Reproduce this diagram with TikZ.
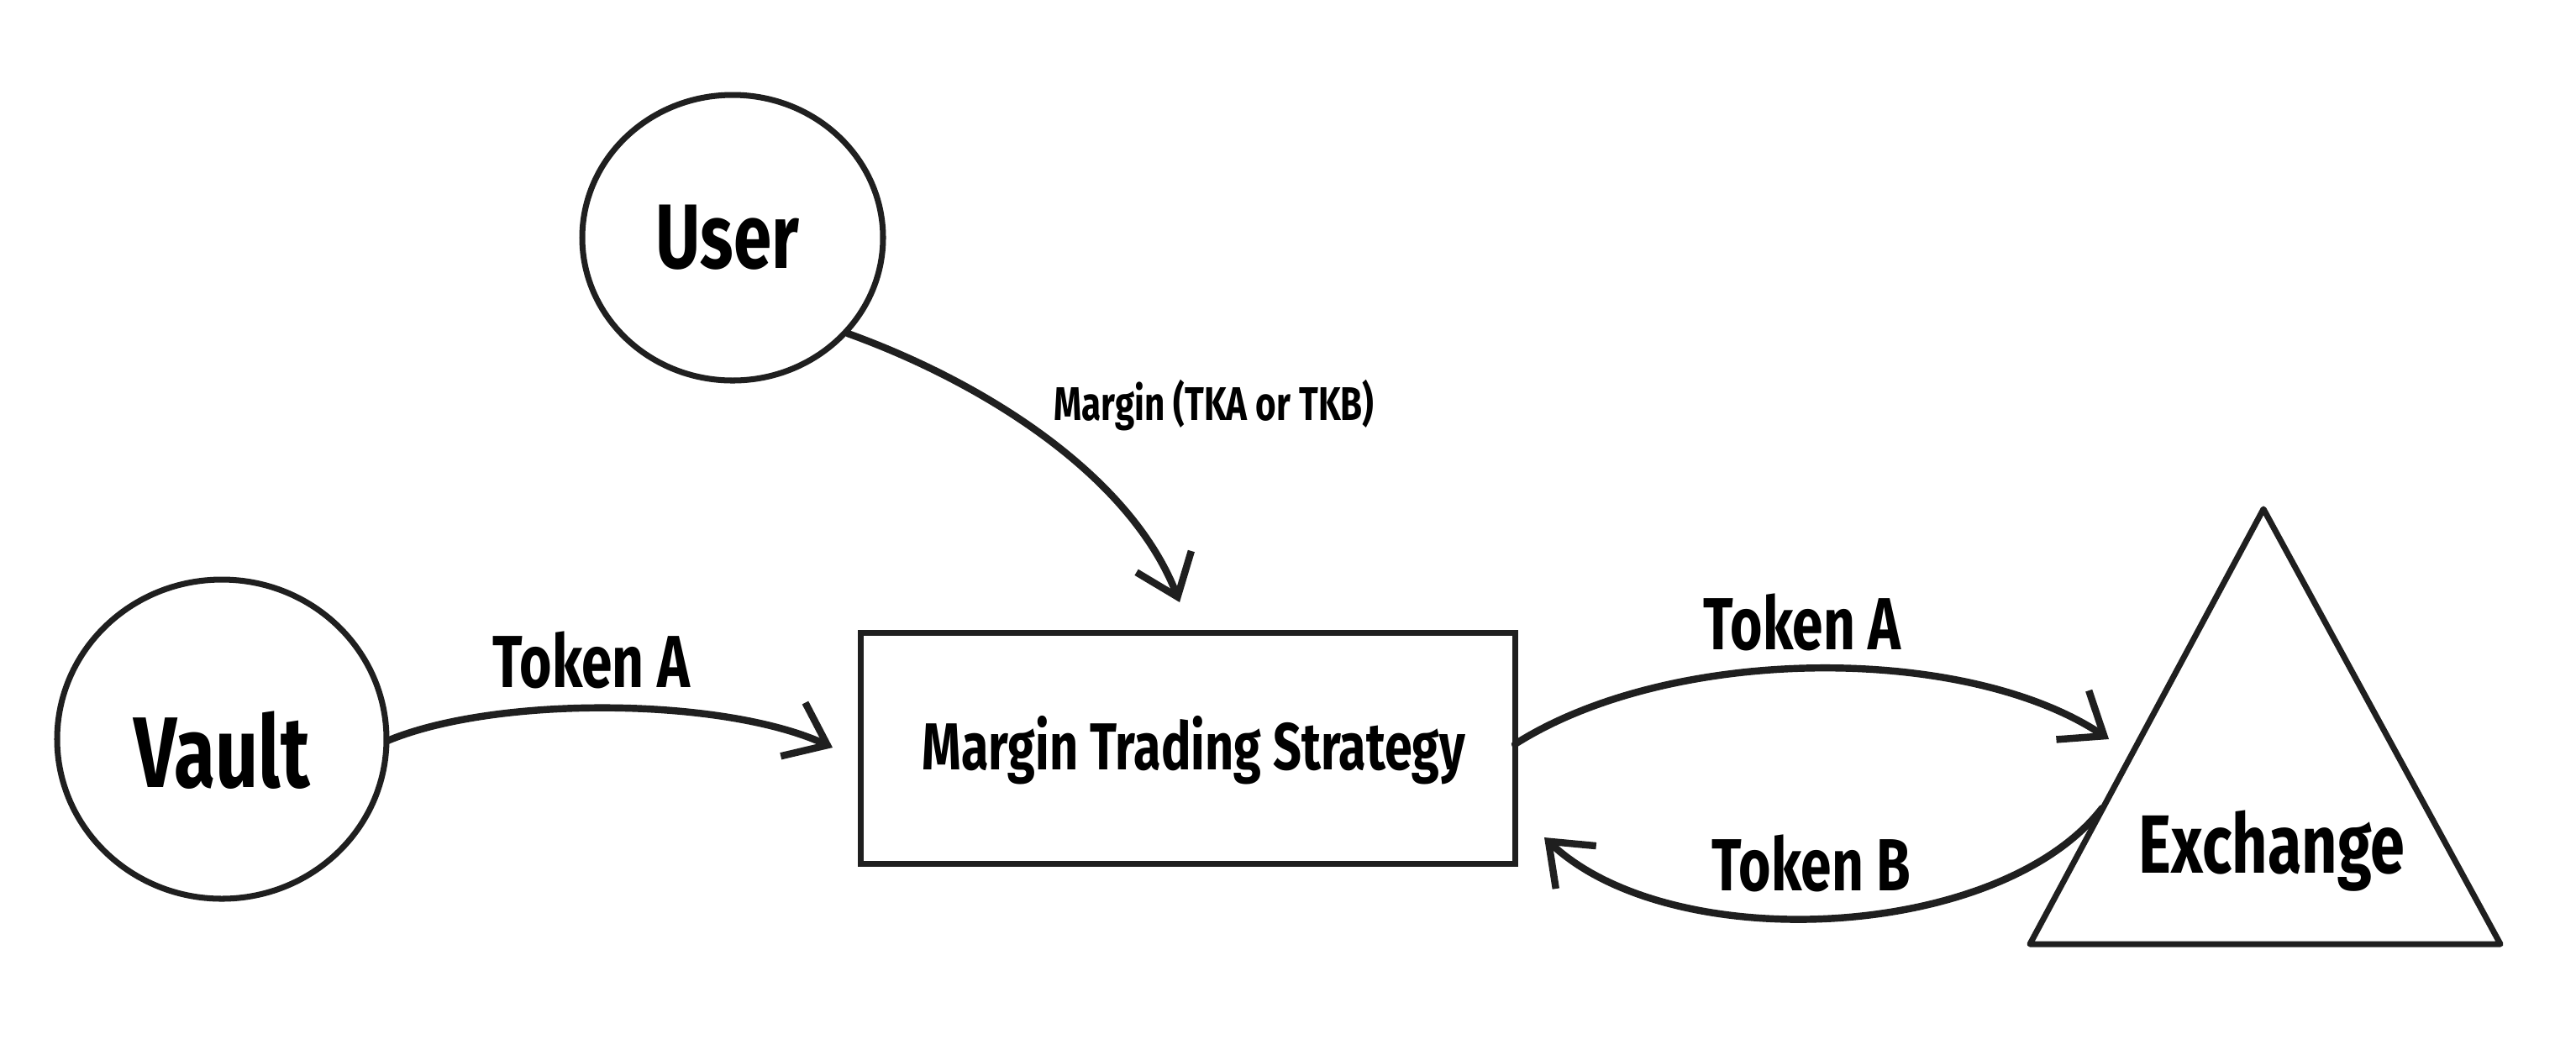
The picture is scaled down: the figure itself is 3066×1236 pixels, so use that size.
\documentclass[tikz,border=0pt]{standalone}
\usepackage{fontspec}
\setmainfont{Fira Sans}[FakeStretch=0.75]
\usetikzlibrary{shapes.geometric,arrows.meta}
\begin{document}
\begin{tikzpicture}[x=0.1mm,y=-0.1mm,
  outline/.style={draw=black!88, line width=2pt},
  conn/.style={draw=black!88, line width=2.4pt, line cap=round,
    -{Straight Barb[length=4.5mm,width=7mm,line width=2.4pt]}},
  ell/.style={outline, ellipse, inner sep=0pt},
  big/.style={font=\bfseries\fontsize{34}{40}\selectfont},
  mid/.style={font=\bfseries\fontsize{25}{30}\selectfont},
  small/.style={font=\bfseries\fontsize{16}{20}\selectfont}]
\useasboundingbox (0,0) rectangle (3066,1236);
\fill[white] (0,0) rectangle (3066,1236);
% nodes
\node[ell, minimum width=35.8mm, minimum height=34mm] (user) at (872,283) {};
\node[font=\bfseries\fontsize{31}{36}\selectfont] (usert) at (866,283) {User};
\node[ell, minimum width=39.2mm, minimum height=38mm] (vault) at (264,880) {};
\node[big] (vaultt) at (264,893) {Vault};
\node[outline, rectangle, minimum width=77.9mm, minimum height=27.5mm, inner sep=0pt] (mts) at (1413.5,890.5) {};
\node[font=\bfseries\fontsize{22.5}{28}\selectfont] (mtst) at (1421,893) {Margin Trading Strategy};
% triangle
\coordinate (apex) at (2694,606);
\coordinate (bl) at (2416,1124);
\coordinate (br) at (2976,1124);
\draw[outline, line join=round] (apex) -- (bl) -- (br) -- cycle;
\node[font=\bfseries\fontsize{28}{34}\selectfont] (exch) at (2704,1013) {Exchange};
% connector end points
\coordinate (va) at (461,882);
\coordinate (vb) at (991,890);
\coordinate (ua) at (1009,397);
\coordinate (ub) at (1404,717);
\coordinate (ta1) at (1803,886);
\coordinate (ta2) at (2510,880);
\coordinate (tb1) at (2502,962);
\coordinate (tb2) at (1838,997);
% connectors
\draw[conn] (va) .. controls (590,828) and (860,830) .. (vb);
\draw[conn] (ua) .. controls (1170,455) and (1345,565) .. (ub);
\draw[conn] (ta1) .. controls (1990,767) and (2340,767) .. (ta2);
\draw[conn] (tb1) .. controls (2380,1120) and (1990,1140) .. (tb2);
% labels
\node[mid] (l1) at (704,786) {Token A};
\node[small] (l2) at (1445,483) {Margin (TKA or TKB)};
\node[mid] (l3) at (2145,741) {Token A};
\node[mid] (l4) at (2156,1028) {Token B};
\end{tikzpicture}
\end{document}
